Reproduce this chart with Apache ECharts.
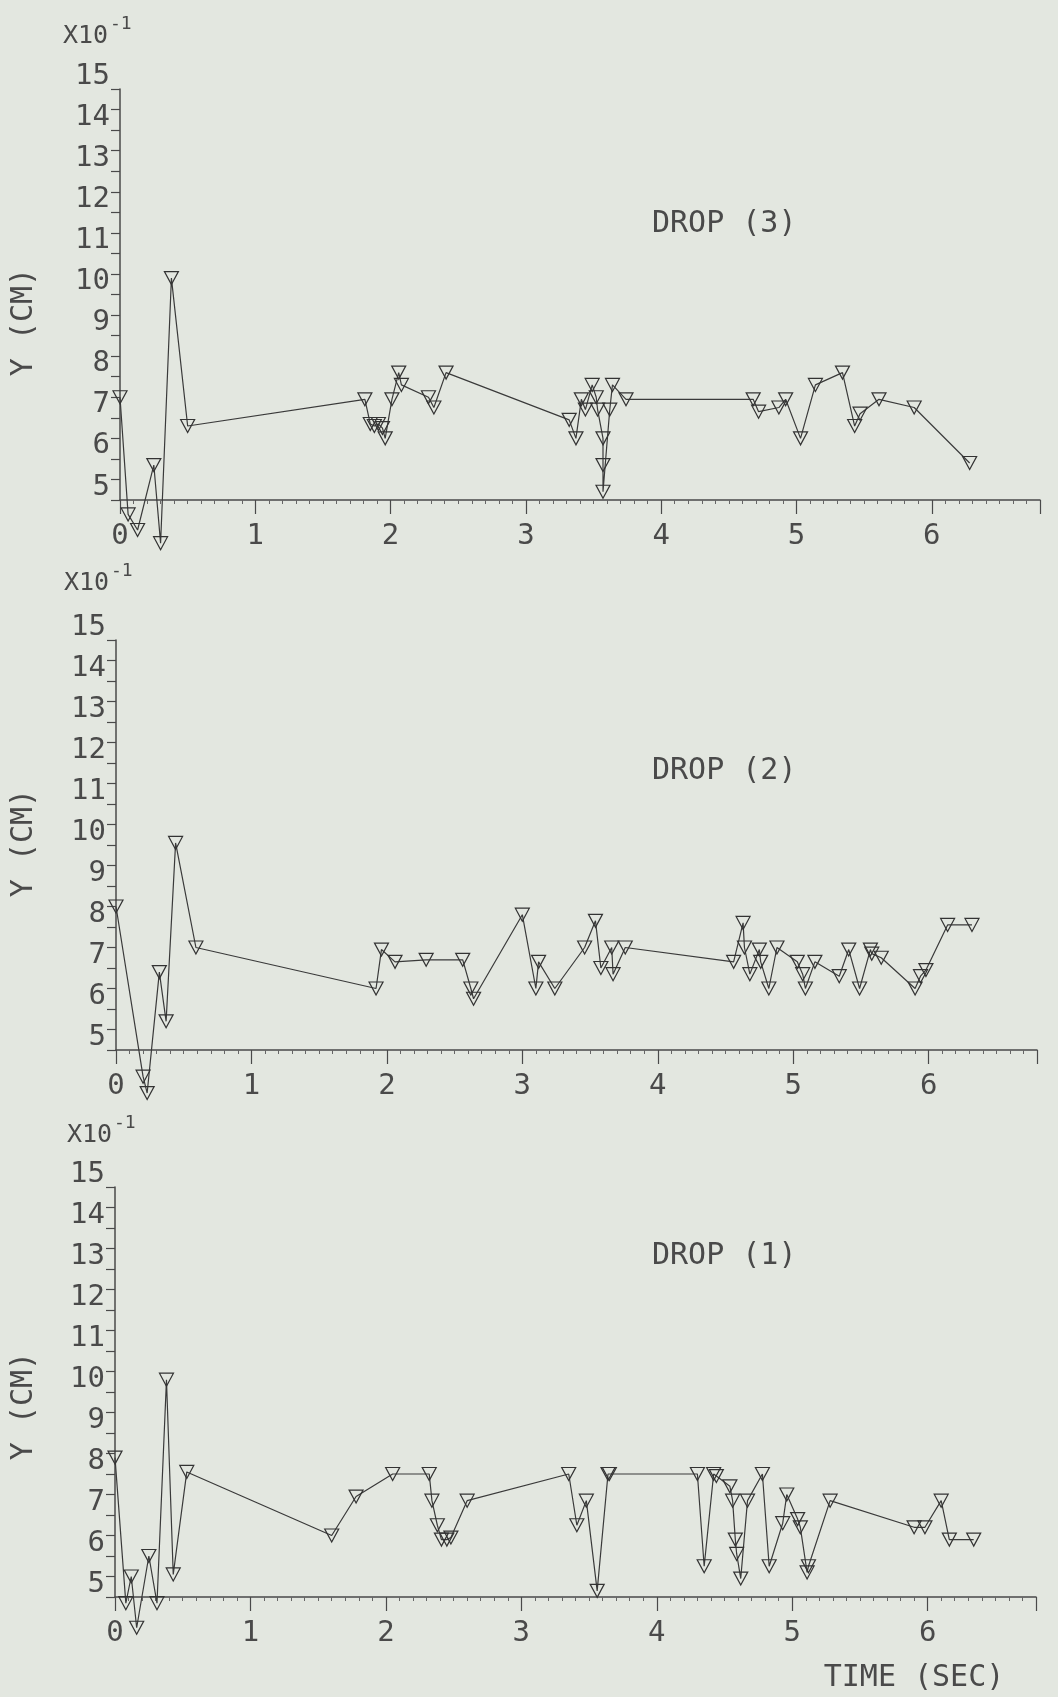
<!DOCTYPE html>
<html lang="en">
<head>
	<meta charset="UTF-8">
	<title>Drop trajectories</title>
	<style>
		html,body{margin:0;padding:0;background-color:#e3e7e0;overflow:hidden;}
		#main{width:1058px;height:1697px;}
	</style>
</head>
<body>
	<div id="main"></div>
	<script src="https://cdn.jsdelivr.net/npm/echarts@6.0.0/dist/echarts.min.js"></script>
	<script>
		// values: time in sec, Y in units of 10^-1 cm
		var drop3Time = [0.0, 0.06, 0.13, 0.25, 0.30, 0.38, 0.50, 1.81, 1.85, 1.88, 1.91, 1.94, 1.96, 2.01, 2.06, 2.08, 2.28, 2.32, 2.41, 3.32, 3.37, 3.41, 3.44, 3.49, 3.52, 3.53, 3.57, 3.57, 3.57, 3.62, 3.64, 3.74, 4.68, 4.72, 4.87, 4.92, 5.03, 5.14, 5.34, 5.43, 5.47, 5.61, 5.87, 6.28];
		var drop3Y    = [7.5, 4.65, 4.27, 5.85, 3.95, 10.4, 6.8, 7.45, 6.85, 6.8, 6.85, 6.75, 6.5, 7.45, 8.1, 7.8, 7.5, 7.25, 8.1, 6.95, 6.5, 7.45, 7.2, 7.8, 7.5, 7.2, 6.5, 5.85, 5.2, 7.2, 7.8, 7.45, 7.45, 7.15, 7.25, 7.45, 6.5, 7.8, 8.1, 6.8, 7.1, 7.45, 7.25, 5.9];

		var drop2Time = [0.0, 0.20, 0.23, 0.32, 0.37, 0.44, 0.59, 1.92, 1.96, 2.06, 2.29, 2.56, 2.62, 2.64, 3.00, 3.10, 3.12, 3.24, 3.46, 3.54, 3.58, 3.66, 3.67, 3.76, 4.56, 4.63, 4.64, 4.68, 4.75, 4.76, 4.82, 4.88, 5.03, 5.07, 5.09, 5.16, 5.34, 5.41, 5.49, 5.57, 5.58, 5.65, 5.90, 5.94, 5.98, 6.14, 6.32];
		var drop2Y    = [8.5, 4.35, 3.95, 6.9, 5.7, 10.05, 7.5, 6.5, 7.45, 7.15, 7.2, 7.2, 6.5, 6.25, 8.3, 6.5, 7.15, 6.5, 7.5, 8.15, 7.0, 7.5, 6.85, 7.5, 7.15, 8.1, 7.5, 6.85, 7.45, 7.15, 6.5, 7.5, 7.15, 6.85, 6.5, 7.15, 6.8, 7.45, 6.5, 7.45, 7.35, 7.25, 6.5, 6.8, 6.95, 8.05, 8.05];

		var drop1Time = [0.0, 0.08, 0.12, 0.16, 0.25, 0.31, 0.38, 0.43, 0.53, 1.60, 1.78, 2.05, 2.32, 2.34, 2.38, 2.41, 2.45, 2.48, 2.60, 3.35, 3.41, 3.48, 3.56, 3.64, 3.65, 4.30, 4.35, 4.42, 4.44, 4.54, 4.56, 4.58, 4.59, 4.62, 4.67, 4.78, 4.83, 4.93, 4.96, 5.04, 5.06, 5.11, 5.12, 5.28, 5.90, 5.98, 6.10, 6.16, 6.34];
		var drop1Y    = [8.4, 4.85, 5.5, 4.25, 6.0, 4.85, 10.3, 5.55, 8.05, 6.5, 7.45, 8.0, 8.0, 7.35, 6.75, 6.4, 6.4, 6.45, 7.35, 8.0, 6.75, 7.35, 5.15, 8.0, 8.0, 8.0, 5.75, 8.0, 7.95, 7.7, 7.35, 6.4, 6.05, 5.45, 7.35, 8.0, 5.75, 6.8, 7.5, 6.9, 6.7, 5.6, 5.75, 7.35, 6.7, 6.7, 7.35, 6.4, 6.4];

		var titles = ['DROP (3)', 'DROP (2)', 'DROP (1)'];
		var yMin = 5, yMax = 15;
		var xMin = 0, xMax = 6.8;

		var FONT = '"DejaVu Sans Mono", "Liberation Mono", monospace';
		var INK = '#4a4a4a';
		var BG = '#e3e7e0';

		// panel boxes: left, top, width, height
		var panels = [
			{left: 120, top: 89, width: 920, height: 411, title: [652, 209], exp: [63, 36], yname: [24, 322]},
			{left: 116, top: 640, width: 921, height: 410, title: [652, 756], exp: [64, 583], yname: [24, 843]},
			{left: 115, top: 1187, width: 921, height: 410, title: [652, 1241], exp: [67, 1135], yname: [24, 1406]}
		];
		var dataSets = [[drop3Time, drop3Y], [drop2Time, drop2Y], [drop1Time, drop1Y]];

		function pairs(t, y){
			var out = [];
			for(var i = 0; i < t.length; i++){
				out.push([t[i], y[i]]);
			}
			return out;
		}

		var chart = echarts.init(document.getElementById('main'));
		var grids = [], xAxes = [], yAxes = [], series = [], titleList = [], graphics = [];

		panels.forEach(function(p, i){
			grids.push({left: p.left, top: p.top, width: p.width, height: p.height, outerBoundsMode: 'none', containLabel: false});
			xAxes.push({
				type: 'value', gridIndex: i, min: xMin, max: xMax, interval: 1,
				axisLine: {onZero: false, lineStyle: {color: INK, width: 1.5}},
				axisTick: {length: 14, lineStyle: {color: INK, width: 1.2}},
				minorTick: {show: true, splitNumber: 10, length: 4, lineStyle: {color: '#666', width: 1}},
				axisLabel: {margin: 22, fontFamily: FONT, fontSize: 29, color: INK, showMaxLabel: false,
					formatter: function(v){ return v > 6 ? '' : String(v); }},
				splitLine: {show: false}
			});
			yAxes.push({
				type: 'value', gridIndex: i, min: yMin, max: yMax, interval: 1,
				axisLine: {show: true, lineStyle: {color: INK, width: 1.5}},
				axisTick: {length: 9, lineStyle: {color: INK, width: 1.2}},
				minorTick: {show: true, splitNumber: 2, length: 9, lineStyle: {color: INK, width: 1.2}},
				axisLabel: {margin: 10, fontFamily: FONT, fontSize: 29, color: INK, verticalAlign: 'bottom', lineHeight: 26},
				splitLine: {show: false}
			});
			series.push({
				type: 'line', xAxisIndex: i, yAxisIndex: i,
				data: pairs(dataSets[i][0], dataSets[i][1]),
				clip: false, showAllSymbol: true,
				symbol: 'triangle', symbolRotate: 180, symbolSize: [14, 13],
				itemStyle: {color: 'rgba(0,0,0,0)', borderColor: '#333', borderWidth: 1.2},
				lineStyle: {color: '#3a3a3a', width: 1.2},
				emphasis: {disabled: true}
			});
			titleList.push({
				text: titles[i], left: p.title[0], top: p.title[1], padding: 0,
				textStyle: {fontFamily: FONT, fontSize: 30, fontWeight: 'normal', color: INK}
			});
			// exponent note above the axis: X10 with a raised -1
			graphics.push({
				type: 'text', x: p.exp[0], y: p.exp[1],
				style: {text: 'X10', font: '25px ' + FONT, fill: INK,
					textAlign: 'left', align: 'left', textVerticalAlign: 'middle', verticalAlign: 'middle'}
			});
			graphics.push({
				type: 'text', x: p.exp[0] + 47, y: p.exp[1] - 12,
				style: {text: '-1', font: '18px ' + FONT, fill: INK,
					textAlign: 'left', align: 'left', textVerticalAlign: 'middle', verticalAlign: 'middle'}
			});
			graphics.push({
				type: 'text', x: p.yname[0], y: p.yname[1], rotation: Math.PI / 2,
				style: {text: 'Y (CM)', font: '30px ' + FONT, fill: INK,
					textAlign: 'center', align: 'center', textVerticalAlign: 'middle', verticalAlign: 'middle'}
			});
		});

		graphics.push({
			type: 'text', x: 914, y: 1678,
			style: {text: 'TIME (SEC)', font: '30px ' + FONT, fill: INK,
				textAlign: 'center', align: 'center', textVerticalAlign: 'middle', verticalAlign: 'middle'}
		});

		chart.setOption({
			backgroundColor: BG,
			animation: false,
			title: titleList,
			grid: grids,
			xAxis: xAxes,
			yAxis: yAxes,
			series: series,
			graphic: graphics
		});
	</script>
</body>
</html>
